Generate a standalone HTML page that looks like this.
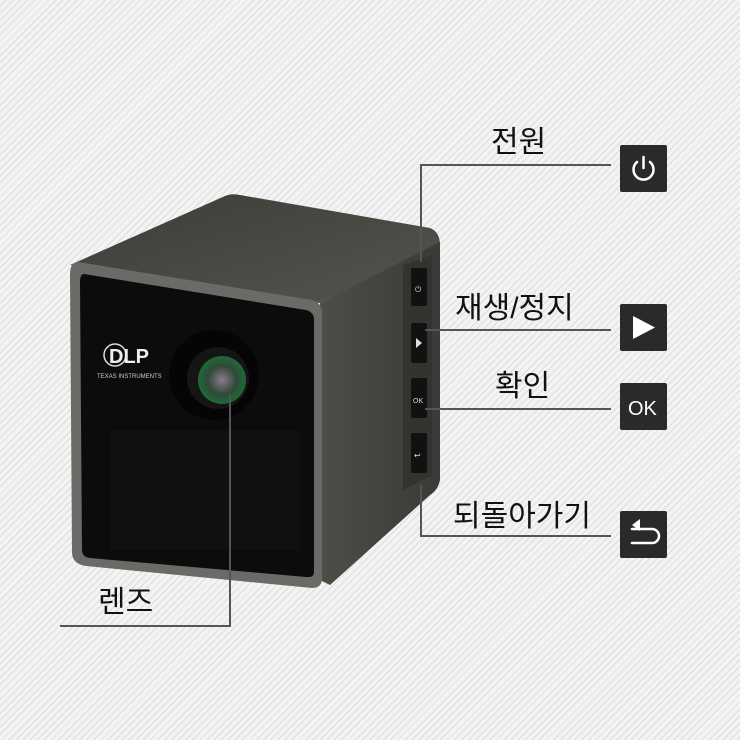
<!DOCTYPE html>
<html><head><meta charset="utf-8"><style>
html,body{margin:0;padding:0;width:740px;height:740px;overflow:hidden}
body{background:#ececec;background-image:repeating-linear-gradient(135deg,#f3f3f3 0 4px,#dcdcdc 4px 5px)}
svg{position:absolute;left:0;top:0}
text{font-family:"Liberation Sans","Noto Sans CJK KR",sans-serif}
</style></head><body>
<svg width="740" height="740" viewBox="0 0 740 740">
<defs>
<linearGradient id="top" x1="0" y1="0" x2="1" y2="1"><stop offset="0" stop-color="#3c3c38"/><stop offset="1" stop-color="#55554f"/></linearGradient>
<linearGradient id="side" x1="0" y1="0" x2="1" y2="0"><stop offset="0" stop-color="#4e4e48"/><stop offset="1" stop-color="#3a3a36"/></linearGradient>
<radialGradient id="lens" cx="0.5" cy="0.5" r="0.5"><stop offset="0" stop-color="#8a7a90"/><stop offset="0.6" stop-color="#2f4a36"/><stop offset="1" stop-color="#1f6a3a"/></radialGradient>
</defs>
<path d="M70 265 L225 196 Q232 193 240 195 L430 228 Q440 232 440 245 L320 303 Z" fill="url(#top)"/>
<path d="M320 303 L440 242 L440 480 Q438 490 430 495 L330 585 L320 580 Z" fill="url(#side)"/>
<path d="M78 262 L312 300 Q322 303 322 312 L322 578 Q322 588 312 588 L86 566 Q72 564 72 552 L70 275 Q70 262 78 262 Z" fill="#6a6a66"/>
<path d="M84 274 L306 310 Q314 312 314 320 L314 572 Q314 578 306 577 L90 558 Q82 557 82 550 L80 282 Q80 274 84 274 Z" fill="#0c0c0c"/>
<rect x="110" y="430" width="190" height="120" fill="#101010"/>
<circle cx="115" cy="355" r="11" fill="none" stroke="#ddd" stroke-width="1.5"/>
<text x="109" y="363" font-size="20" font-weight="bold" fill="#eee">DLP</text>
<text x="97" y="378" font-size="6" fill="#ccc">TEXAS INSTRUMENTS</text>
<circle cx="214" cy="375" r="45" fill="#050505"/>
<circle cx="218" cy="378" r="31" fill="#151515"/>
<circle cx="222" cy="380" r="24" fill="url(#lens)"/>
<path d="M403 265 L432 255 L432 475 L403 490 Z" fill="#333330"/>
<g fill="#111">
<rect x="411" y="268" width="16" height="38" rx="2"/>
<rect x="411" y="323" width="16" height="40" rx="2"/>
<rect x="411" y="378" width="16" height="40" rx="2"/>
<rect x="411" y="433" width="16" height="40" rx="2"/>
</g>
<g fill="#ddd" font-size="8"><text x="415" y="292">⏻</text><polygon points="416,338 422,343 416,348"/><text x="413" y="403" font-size="7">OK</text><text x="414" y="458">↩</text></g>
<g stroke="#555" stroke-width="2" fill="none">
<polyline points="611,165 421,165 421,262"/>
<line x1="425" y1="330" x2="611" y2="330"/>
<line x1="425" y1="409" x2="611" y2="409"/>
<polyline points="421,485 421,536 611,536"/>
<polyline points="230,395 230,626 60,626"/>
</g>
<g font-size="30" fill="#111">
<text x="491" y="152">전원</text>
<text x="455" y="318">재생/정지</text>
<text x="495" y="396">확인</text>
<text x="453" y="526">되돌아가기</text>
<text x="98" y="612">렌즈</text>
</g>
<g fill="#2a2a2a">
<rect x="620" y="145" width="47" height="47" rx="2"/>
<rect x="620" y="304" width="47" height="47" rx="2"/>
<rect x="620" y="383" width="47" height="47" rx="2"/>
<rect x="620" y="511" width="47" height="47" rx="2"/>
</g>
<g stroke="#fff" stroke-width="2.5" fill="none" stroke-linecap="round">
<path d="M637 162 A10 10 0 1 0 650 162"/><line x1="643.5" y1="157" x2="643.5" y2="168"/>
<path d="M632 529 L652 529 A7 7 0 0 1 652 543 L632 543"/>
</g>
<polygon points="632,525 640,519 640,531" fill="#fff"/>
<polygon points="633,316 655,327.5 633,339" fill="#fff"/>
<text x="628" y="415" font-size="20" fill="#fff">OK</text>
</svg>
</body></html>
